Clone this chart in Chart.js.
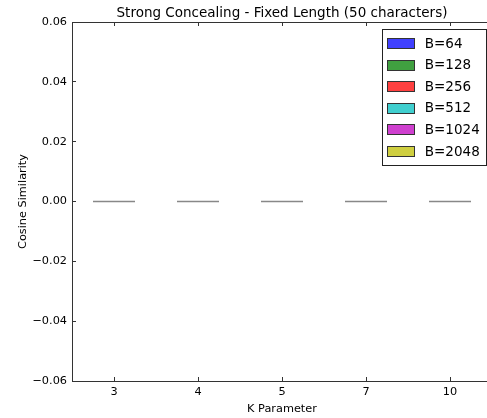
<!DOCTYPE html>
<html>
<head>
<meta charset="utf-8">
<script src="https://cdn.jsdelivr.net/npm/chart.js@4.4.1/dist/chart.umd.min.js"></script>
<style>
    html, body { margin: 0; padding: 0; background: #fff; overflow: hidden; }
</style>
</head>
<body>
<canvas id="grafico-similitud" width="500" height="418"></canvas>
<script>
// Datos
const categorias = ['3', '4', '5', '7', '10'];
const etiquetasSeries = ['B=64', 'B=128', 'B=256', 'B=512', 'B=1024', 'B=2048'];
const valoresB64 = [0, 0, 0, 0, 0];
const valoresB128 = [0, 0, 0, 0, 0];
const valoresB256 = [0, 0, 0, 0, 0];
const valoresB512 = [0, 0, 0, 0, 0];
const valoresB1024 = [0, 0, 0, 0, 0];
const valoresB2048 = [0, 0, 0, 0, 0];
const yTicks = [-0.06, -0.04, -0.02, 0, 0.02, 0.04, 0.06];
const yTickLabels = ['\u22120.06', '\u22120.04', '\u22120.02', '0.00', '0.02', '0.04', '0.06'];

// Colores (estilo matplotlib clásico con alpha 0.75)
const colores = [
    'rgba(0, 0, 255, 0.75)',
    'rgba(0, 128, 0, 0.75)',
    'rgba(255, 0, 0, 0.75)',
    'rgba(0, 191, 191, 0.75)',
    'rgba(191, 0, 191, 0.75)',
    'rgba(191, 191, 0, 0.75)'
];
const valores = [valoresB64, valoresB128, valoresB256, valoresB512, valoresB1024, valoresB2048];

Chart.defaults.font.family = '"DejaVu Sans", sans-serif';
Chart.defaults.color = '#000';

// Leyenda dibujada dentro del área del gráfico (arriba a la derecha)
const leyendaInterna = {
    id: 'leyendaInterna',
    afterDraw(chart) {
        const ctx = chart.ctx;
        const area = chart.chartArea;
        const datasets = chart.data.datasets;
        ctx.save();
        ctx.font = '13.5px "DejaVu Sans"';
        const anchoTexto = Math.max(...datasets.map(d => ctx.measureText(d.label).width));
        const pad = 5.4, manija = 27, sep = 10.8, fila = 21.6, margen = 14;
        const derecha = area.right - 6;
        const arriba = area.top + 7;
        const ancho = Math.round(pad + manija + sep + anchoTexto + pad);
        const alto = Math.round(margen * 2 + fila * (datasets.length - 1));
        const izquierda = Math.round(derecha - ancho);
        ctx.fillStyle = '#fff';
        ctx.fillRect(izquierda, arriba, ancho, alto);
        ctx.strokeStyle = '#222';
        ctx.lineWidth = 1;
        ctx.strokeRect(izquierda + 0.5, arriba + 0.5, ancho, alto);
        datasets.forEach((d, i) => {
            const y = arriba + margen + i * fila;
            const x = Math.round(izquierda + pad);
            const y0 = Math.round(y - 5);
            ctx.fillStyle = d.backgroundColor;
            ctx.fillRect(x, y0, manija, 10);
            ctx.strokeStyle = '#333';
            ctx.strokeRect(x + 0.5, y0 + 0.5, manija, 10);
            ctx.fillStyle = '#000';
            ctx.textBaseline = 'middle';
            ctx.textAlign = 'left';
            ctx.fillText(d.label, x + manija + sep, y + 1);
        });
        ctx.restore();
    }
};

const ctxSimilitud = document.getElementById('grafico-similitud').getContext('2d');
new Chart(ctxSimilitud, {
    type: 'bar',
    data: {
        labels: categorias,
        datasets: etiquetasSeries.map((etiqueta, i) => ({
            label: etiqueta,
            data: valores[i],
            backgroundColor: colores[i],
            borderColor: '#888',
            borderWidth: 1,
            borderSkipped: false,
            minBarLength: 2,
            categoryPercentage: 0.5,
            barPercentage: 1.0
        }))
    },
    options: {
        responsive: false,
        animation: false,
        events: [],
        layout: { padding: { left: 0, right: 8, top: 0, bottom: 0 } },
        plugins: {
            legend: { display: false },
            tooltip: { enabled: false },
            title: { display: false }
        },
        scales: {
            x: {
                offset: true,
                grid: { offset: false, drawOnChartArea: false, tickLength: -4, color: '#333' },
                border: { color: '#333', width: 1 },
                ticks: { padding: 8, color: '#000', font: { size: 11.3 }, maxRotation: 0 },
                title: {
                    display: true,
                    text: 'K Parameter',
                    color: '#000',
                    font: { size: 11.3 },
                    padding: { top: 4, bottom: 2 }
                },
                afterFit: s => { s.height = 37; }
            },
            // eje superior: solo marcas y el título del gráfico centrado sobre el área
            x2: {
                type: 'category',
                position: 'top',
                offset: true,
                grid: { offset: false, drawOnChartArea: false, tickLength: -4, color: '#333' },
                border: { color: '#333', width: 1 },
                ticks: { display: false },
                title: {
                    display: true,
                    text: 'Strong Concealing - Fixed Length (50 characters)',
                    color: '#000',
                    font: { size: 13.5 },
                    padding: { top: 5, bottom: 0 }
                },
                afterFit: s => { s.height = 22; }
            },
            y: {
                min: -0.06,
                max: 0.06,
                afterBuildTicks: s => { s.ticks = yTicks.map(v => ({ value: v })); },
                grid: { drawOnChartArea: false, tickLength: -4, color: '#333' },
                border: { color: '#333', width: 1 },
                ticks: {
                    padding: 9,
                    color: '#000',
                    font: { size: 11.3 },
                    callback: (value, index) => yTickLabels[index]
                },
                title: {
                    display: true,
                    text: 'Cosine Similarity',
                    color: '#000',
                    font: { size: 11.3 },
                    padding: { top: 16, bottom: 0 }
                },
                afterFit: s => { s.width = 72; }
            }
        }
    },
    plugins: [leyendaInterna]
});
</script>
</body>
</html>
